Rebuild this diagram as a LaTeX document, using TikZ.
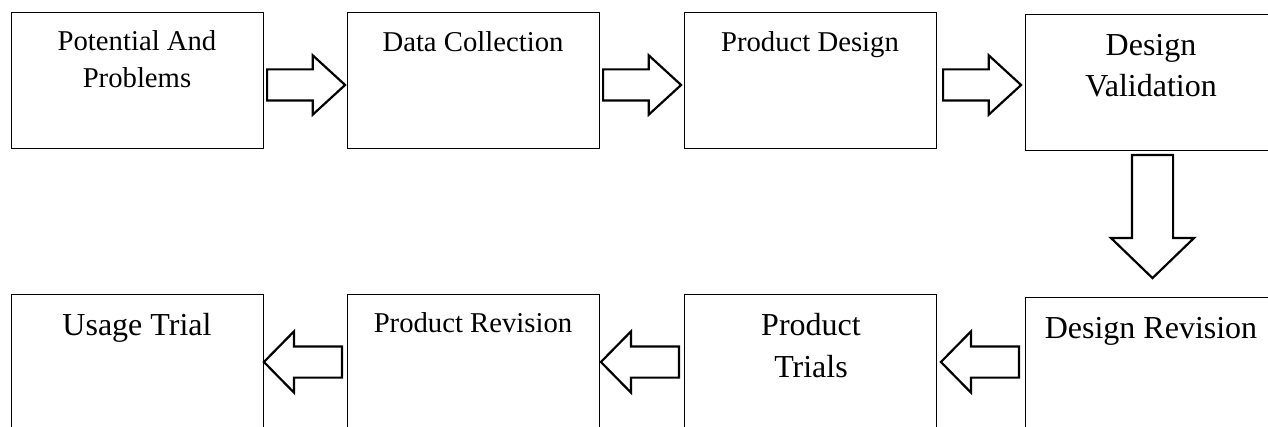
\documentclass[tikz,border=0pt]{standalone}
\usepackage{fontspec}
\setmainfont{Liberation Serif}
\usetikzlibrary{shapes,shapes.arrows,calc}
\tikzstyle{stage}=[draw,line width=1.3pt,anchor=north west,minimum width=252pt,minimum height=136pt,inner sep=0pt]
\tikzstyle{smalltext}=[anchor=base,align=center,inner sep=0pt,font=\fontsize{28.7}{37}\selectfont]
\tikzstyle{largetext}=[anchor=base,align=center,inner sep=0pt,font=\fontsize{32}{41.5}\selectfont]
\tikzstyle{blockarrow}=[single arrow,draw,line width=2.2pt,fill=white,inner sep=14.5pt,minimum height=78pt,minimum width=57pt,single arrow head extend=14pt,single arrow tip angle=85,anchor=tail]

\begin{document}
\begin{tikzpicture}[x=1pt,y=-1pt]
    \clip (0,0) rectangle (1268,427);
    % First we draw the stage boxes
    \foreach \pos/ \name in {{(11,12)/pap},{(347,12)/dc},{(684,12)/pd},{(1025,14)/dv},
                             {(1025,297)/dr},{(684,294)/pt},{(347,294)/pr},{(11,294)/ut}}
        \node[stage] (\name) at \pos {};

    % Then the labels, at the top of each box (base = last line)
    \foreach \pos/ \name/ \txt in {{(137,88)/pap/{Potential And\\Problems}},{(473,52)/dc/{Data Collection}},
                                   {(810,52)/pd/{Product Design}},{(473,333)/pr/{Product Revision}}}
        \node[smalltext] (t\name) at \pos {\txt};
    \foreach \pos/ \name/ \txt in {{(1151,97)/dv/{Design\\Validation}},{(1151,338)/dr/{Design Revision}},
                                   {(811,377)/pt/{Product\\Trials}},{(137,335)/ut/{Usage Trial}}}
        \node[largetext] (t\name) at \pos {\txt};

    % Block arrows between the boxes (placed by their tails)
    \foreach \pos/ \name in {{(266,85)/a1},{(602,85)/a2},{(942,85)/a3}}
        \node[blockarrow] (\name) at \pos {};
    \foreach \pos/ \name in {{(1020,362)/a5},{(680,362)/a6},{(343,362)/a7}}
        \node[blockarrow,shape border rotate=180,minimum width=59pt,single arrow head extend=15pt,single arrow tip angle=91] (\name) at \pos {};
    \node[blockarrow,shape border rotate=270,inner sep=19.5pt,minimum height=123pt,minimum width=81pt,single arrow head extend=21pt,single arrow tip angle=92] (a4) at (1152.5,154) {};
\end{tikzpicture}
\end{document}
